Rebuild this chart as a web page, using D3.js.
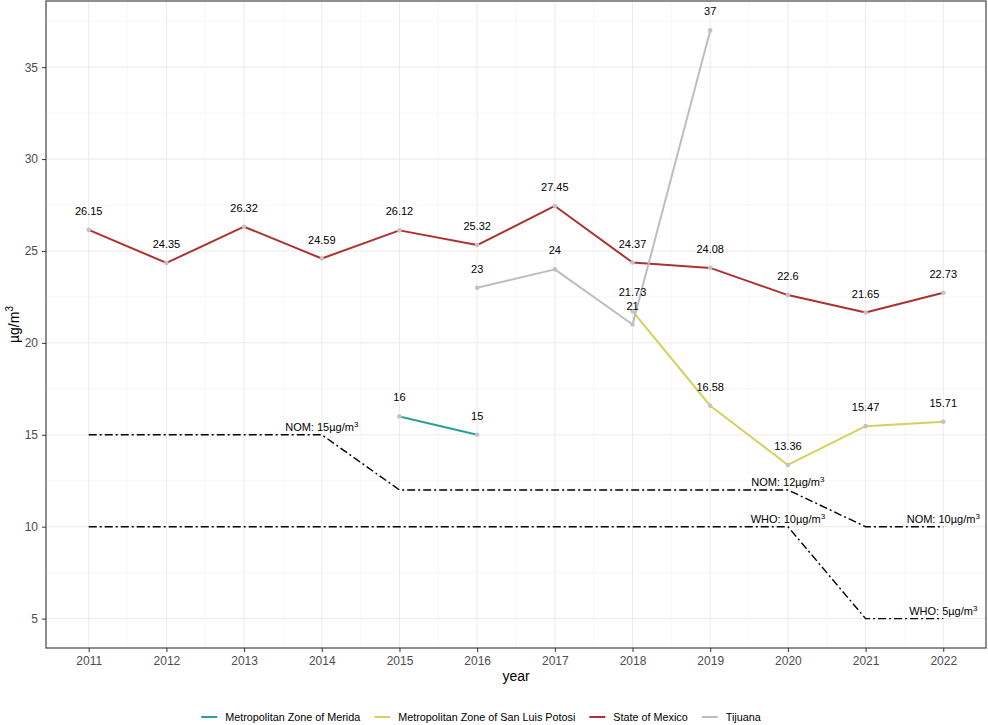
<!DOCTYPE html>
<html>
<head>
<meta charset="utf-8">
<script src="https://cdn.jsdelivr.net/npm/d3@7"></script>
<style>
  body { margin: 0; background: #fff; }
  text { font-family: "Liberation Sans", Arial, sans-serif; }
</style>
</head>
<body>
<svg id="chart" width="988" height="725"></svg>
<script>
// series values
const years = [2011, 2012, 2013, 2014, 2015, 2016, 2017, 2018, 2019, 2020, 2021, 2022];
const stateOfMexico = [26.15, 24.35, 26.32, 24.59, 26.12, 25.32, 27.45, 24.37, 24.08, 22.6, 21.65, 22.73];
const tijuanaYears = [2016, 2017, 2018, 2019];
const tijuana = [23, 24, 21, 37];
const sanLuisYears = [2018, 2019, 2020, 2021, 2022];
const sanLuis = [21.73, 16.58, 13.36, 15.47, 15.71];
const meridaYears = [2015, 2016];
const merida = [16, 15];

// air quality standards
const nomYears = [2011, 2014, 2015, 2020, 2021, 2022];
const nomValues = [15, 15, 12, 12, 10, 10];
const whoYears = [2011, 2020, 2021, 2022];
const whoValues = [10, 10, 5, 5];
const stdLabelYears = [2014, 2020, 2020, 2022, 2022];
const stdLabelValues = [15, 12, 10, 10, 5];
const stdLabelNames = ["NOM: 15", "NOM: 12", "WHO: 10", "NOM: 10", "WHO: 5"];

const yTicks = [5, 10, 15, 20, 25, 30, 35];
const yMinor = [7.5, 12.5, 17.5, 22.5, 27.5, 32.5, 37.5];
const seriesNames = ["Metropolitan Zone of Merida", "Metropolitan Zone of San Luis Potosi", "State of Mexico", "Tijuana"];
const seriesColors = ["#2b9f9a", "#d2d25e", "#ad3131", "#bdbdbd"];

const svg = d3.select("#chart");
const margin = {top: 1, right: 2, bottom: 77, left: 46},
	width = 988,
	height = 725;

const x = d3.scaleLinear()
	.domain([2010.45, 2022.55])
	.range([margin.left, width - margin.right]);

const y = d3.scaleLinear()
	.domain([3.4, 38.6])
	.range([height - margin.bottom, margin.top]);

// grid
const grid = svg.append("g");
grid.selectAll(".ymin").data(yMinor.filter(v => v < 38.6)).join("line")
	.attr("x1", margin.left).attr("x2", width - margin.right)
	.attr("y1", d => y(d)).attr("y2", d => y(d))
	.attr("stroke", "#f2f2f2").attr("stroke-width", 0.6);
grid.selectAll(".xmin").data(years.slice(0, -1).map(v => v + 0.5)).join("line")
	.attr("y1", margin.top).attr("y2", height - margin.bottom)
	.attr("x1", d => x(d)).attr("x2", d => x(d))
	.attr("stroke", "#f2f2f2").attr("stroke-width", 0.6);
grid.selectAll(".ymaj").data(yTicks).join("line")
	.attr("x1", margin.left).attr("x2", width - margin.right)
	.attr("y1", d => y(d)).attr("y2", d => y(d))
	.attr("stroke", "#ebebeb").attr("stroke-width", 1);
grid.selectAll(".xmaj").data(years).join("line")
	.attr("y1", margin.top).attr("y2", height - margin.bottom)
	.attr("x1", d => x(d)).attr("x2", d => x(d))
	.attr("stroke", "#ebebeb").attr("stroke-width", 1);

// axes
const xAxis = g => g
	.attr("transform", `translate(0,${height - margin.bottom})`)
	.call(d3.axisBottom(x).tickValues(years).tickFormat(d3.format("d")).tickSize(4).tickPadding(4))
	.call(g => g.select(".domain").remove())
	.call(g => g.selectAll(".tick line").attr("stroke", "#333"))
	.call(g => g.selectAll(".tick text").attr("fill", "#4d4d4d").attr("font-size", 12));

const yAxis = g => g
	.attr("transform", `translate(${margin.left},0)`)
	.call(d3.axisLeft(y).tickValues(yTicks).tickSize(4).tickPadding(4))
	.call(g => g.select(".domain").remove())
	.call(g => g.selectAll(".tick line").attr("stroke", "#333"))
	.call(g => g.selectAll(".tick text").attr("fill", "#4d4d4d").attr("font-size", 12));

svg.append("g").call(xAxis).attr("font-family", null);
svg.append("g").call(yAxis).attr("font-family", null);

// standards (dot-dash)
const line = d3.line()
	.x(d => x(d[0]))
	.y(d => y(d[1]));

[[nomYears, nomValues], [whoYears, whoValues]].forEach(([xs, vs]) => {
	svg.append("path")
		.datum(xs.map((d, i) => [d, vs[i]]))
		.attr("fill", "none")
		.attr("stroke", "#000")
		.attr("stroke-width", 1.4)
		.attr("stroke-dasharray", "8,3,2,3")
		.attr("d", line);
});

const stdLabels = svg.append("g");
stdLabelYears.forEach((yr, i) => {
	const t = stdLabels.append("text")
		.attr("x", x(yr))
		.attr("y", y(stdLabelValues[i]) - 4)
		.attr("text-anchor", "middle")
		.attr("font-size", 11)
		.attr("fill", "#000");
	t.append("tspan").text(stdLabelNames[i] + "\u00b5g/m");
	t.append("tspan").attr("dy", -4).attr("font-size", 8).text("3");
});

// series
const series = [
	[meridaYears, merida],
	[sanLuisYears, sanLuis],
	[years, stateOfMexico],
	[tijuanaYears, tijuana]
];

series.forEach(([xs, vs], k) => {
	svg.append("path")
		.datum(xs.map((d, i) => [d, vs[i]]))
		.attr("fill", "none")
		.attr("stroke", seriesColors[k])
		.attr("stroke-width", 2)
		.attr("stroke-linejoin", "round")
		.attr("d", line);
});

series.forEach(([xs, vs]) => {
	const pts = xs.map((d, i) => [d, vs[i]]);
	svg.append("g").selectAll("circle").data(pts).join("circle")
		.attr("cx", d => x(d[0]))
		.attr("cy", d => y(d[1]))
		.attr("r", 2.3)
		.attr("fill", "#c2c2c2");
	svg.append("g").selectAll("text").data(pts).join("text")
		.attr("x", d => x(d[0]))
		.attr("y", d => y(d[1]) - 15)
		.attr("text-anchor", "middle")
		.attr("font-size", 11)
		.attr("fill", "#000")
		.text(d => d[1]);
});

// panel border
svg.append("rect")
	.attr("x", margin.left).attr("y", margin.top)
	.attr("width", width - margin.right - margin.left)
	.attr("height", height - margin.bottom - margin.top)
	.attr("fill", "none").attr("stroke", "#333").attr("stroke-width", 1.1);

// axis titles
svg.append("text")
	.attr("x", (margin.left + width - margin.right) / 2)
	.attr("y", 681)
	.attr("text-anchor", "middle")
	.attr("font-size", 14)
	.text("year");

const yt = svg.append("text")
	.attr("transform", `translate(19,${(margin.top + height - margin.bottom) / 2}) rotate(-90)`)
	.attr("text-anchor", "middle")
	.attr("font-size", 14);
yt.append("tspan").text("\u00b5g/m");
yt.append("tspan").attr("dy", -6).attr("font-size", 10).text("3");

// legend
const legend = svg.append("g").attr("transform", "translate(0,717)");
let cx = 0;
seriesNames.forEach((name, k) => {
	const g = legend.append("g");
	g.append("line").attr("x1", 0).attr("x2", 16).attr("y1", 0).attr("y2", 0)
		.attr("stroke", seriesColors[k]).attr("stroke-width", 2);
	const t = g.append("text").attr("x", 24).attr("y", 4)
		.attr("font-size", 10.8).attr("fill", "#000").text(name);
	const w = 24 + t.node().getComputedTextLength();
	g.attr("transform", `translate(${cx},0)`);
	cx += w + 14;
});
const total = cx - 14;
legend.attr("transform", `translate(${481 - total / 2},717)`);
</script>
</body>
</html>
